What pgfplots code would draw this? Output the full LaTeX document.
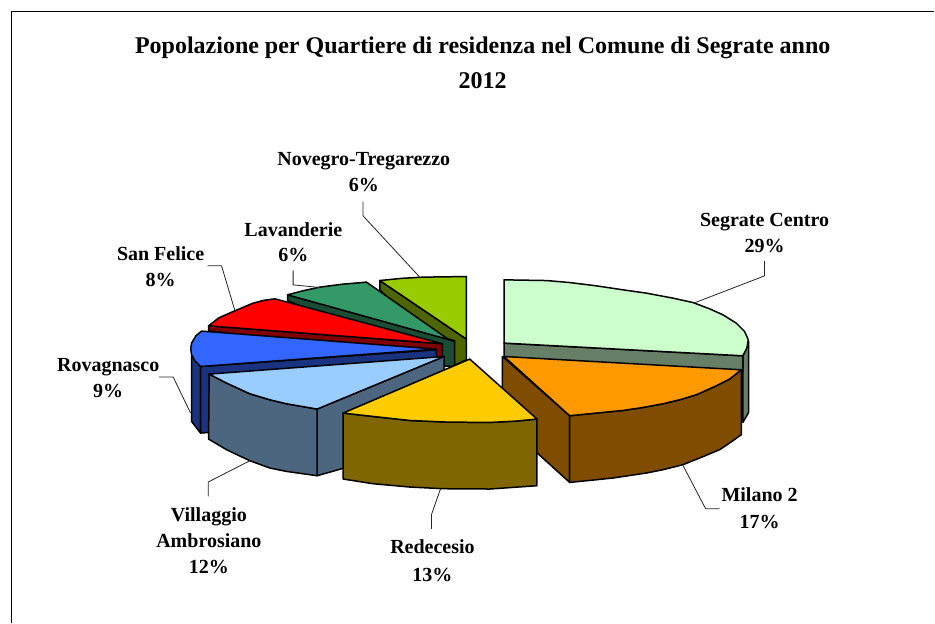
\documentclass[border=0pt]{standalone}
\usepackage{pgfplots}
\pgfplotsset{compat=1.18}
\usepackage{fontspec}
\setmainfont{Liberation Serif}
\definecolor{sgT}{HTML}{CCFFCC}\definecolor{sgD}{HTML}{667F66}
\definecolor{miT}{HTML}{FF9900}\definecolor{miD}{HTML}{804C00}
\definecolor{reT}{HTML}{FFCC00}\definecolor{reD}{HTML}{806600}
\definecolor{viT}{HTML}{99CCFF}\definecolor{viD}{HTML}{4D6680}
\definecolor{roT}{HTML}{3366FF}\definecolor{roD}{HTML}{1A3380}
\definecolor{saT}{HTML}{FF0000}\definecolor{saD}{HTML}{800000}
\definecolor{laT}{HTML}{339966}\definecolor{laD}{HTML}{1A4D33}
\definecolor{noT}{HTML}{99CC00}\definecolor{noD}{HTML}{4D6600}
\tikzset{lab/.style={anchor=base,font=\fontsize{20}{20}\selectfont\bfseries,inner sep=0pt},
 ttl/.style={anchor=base,font=\fontsize{24}{24}\selectfont\bfseries,inner sep=0pt}}
\pgfplotsset{slice/.style={draw=black,line width=1.5pt,line join=round,fill=#1,mark=none},
 lead/.style={draw=black!85,line width=0.8pt,mark=none}}
\begin{document}
\begin{tikzpicture}
\begin{axis}[scale only axis,width=935pt,height=623pt,xmin=0,xmax=935,ymin=0,ymax=623,y dir=reverse,hide axis,clip=false]
\addplot[draw=none,fill=white] coordinates {(0,0)(935,0)(935,623)(0,623)} --cycle;
% frame
\addplot[draw=black,line width=1.1pt] coordinates {(935,11.5)(11.5,11.5)(11.5,623)};
% Novegro-Tregarezzo
\addplot[slice=noD] coordinates {(380,280.7)(466.7,339.3)(466.7,360)(456,365)(380,290)} --cycle;
\addplot[slice=noT] coordinates {(380,280.7)(402,278.5)(423.3,277.3)(445,277)(466.7,276.7)(466.7,339.3)} --cycle;
% Lavanderie
\addplot[slice=laD] coordinates {(287.7,295)(455,341)(455,366.7)(440,366)(287.7,300.7)} --cycle;
\addplot[slice=laT] coordinates {(287.7,295)(303,291)(320,287.3)(343.3,284.3)(366.7,282.3)(449.3,340)(455,341.5)} --cycle;
% San Felice
\addplot[slice=saD] coordinates {(208.7,326)(442.7,344)(442.7,356.7)(430,358)(208.7,331)} --cycle;
\addplot[slice=saT] coordinates {(208.7,326)(219,318)(233.3,311.7)(253.3,303.3)(264,300.5)(275,299)(442.7,344)} --cycle;
% Rovagnasco
\addplot[slice=roD] coordinates {(200.7,366.7)(191.7,355)(191.7,421.7)(200.7,433.3)} --cycle;
\addplot[slice=roD] coordinates {(200.7,366.7)(436.7,350)(436.7,357)(436.7,417)(200.7,433.3)} --cycle;
\addplot[slice=roT] coordinates {(436.7,349.3)(200.7,366.7)(195,361)(191.7,355)(190.8,349)(191.7,343.3)(196,336)(201.7,331.3)} --cycle;
% Villaggio Ambrosiano
\addplot[slice=viD] coordinates {(317.3,409.3)(444.3,356.7)(444.3,368.3)(444.3,440)(317.3,476)} --cycle;
\addplot[slice=viD] coordinates {(209.3,374.3)(226.7,383.3)(250,394)(270,400)(286.7,404)(317.3,409.3)(317.3,476)(286.7,471.7)(270,468.3)(250,461)(226.7,450)(208.7,439.3)} --cycle;
\addplot[slice=viT] coordinates {(444.3,356.7)(317.3,409.3)(286.7,404)(270,400)(250,394)(226.7,383.3)(209.3,374.3)} --cycle;
% Segrate Centro
\addplot[slice=sgD] coordinates {(749,341.7)(743.3,356)(743.3,422.7)(749,412.7)} --cycle;
\addplot[slice=sgD] coordinates {(504.3,343.3)(743.3,356)(743.3,372)(504.3,358)} --cycle;
\addplot[slice=sgT] coordinates {(504.3,280)(546.7,280.7)(570,282.7)(596.7,286)(623.3,290)(646.7,293.3)(673.3,298.3)(693.3,302.7)(710,309)(723.3,315)(736.7,323.3)(745,331.7)(748.7,340)(747.3,348.3)(743.3,356)(504.3,343.3)} --cycle;
% Milano 2
\addplot[slice=miD] coordinates {(502.7,356.7)(570,416)(570,482.7)(502.7,421.7)} --cycle;
\addplot[slice=miD] coordinates {(570,416)(596.7,413.3)(623.3,410.7)(643.3,407.7)(663.3,404)(680,400)(696.7,395)(716.7,386)(730,379.3)(741.7,370)(741.7,435)(730,443.3)(720,450)(700,458.3)(683.3,465)(663.3,470)(646.7,473.3)(613.3,478.3)(590,480.7)(570,482.7)} --cycle;
\addplot[slice=miT] coordinates {(504.3,356.7)(741.7,370)(730,379.3)(716.7,386)(696.7,395)(680,400)(663.3,404)(643.3,407.7)(623.3,410.7)(596.7,413.3)(570,416)} --cycle;
% Redecesio
\addplot[slice=reD] coordinates {(343.3,413.3)(373.3,416.7)(410,420.7)(446.7,422.3)(490,422.7)(516.7,421.3)(537.3,419.3)(537.3,486)(490,489.3)(443.3,489)(410,487.3)(373.3,484)(343.3,479.3)} --cycle;
\addplot[slice=reT] coordinates {(470,359.3)(537.3,419.3)(516.7,421.3)(490,422.7)(446.7,422.3)(410,420.7)(373.3,416.7)(343.3,413.3)} --cycle;
% leaders
\addplot[lead] coordinates {(695,303)(765,276)(765,261)};
\addplot[lead] coordinates {(683,465)(706,509)(720,509)};
\addplot[lead] coordinates {(440.7,489.3)(431.7,515)(431.7,529.3)};
\addplot[lead] coordinates {(250,461)(208.3,482.3)(208.3,496.7)};
\addplot[lead] coordinates {(159.3,377.3)(173.3,377.3)(190.7,413.3)};
\addplot[lead] coordinates {(207.7,266)(221.7,266)(235,310.7)};
\addplot[lead] coordinates {(293.3,270.7)(293.3,285)(320,287.7)};
\addplot[lead] coordinates {(363.3,201.7)(363.3,216)(420,277.3)};
% text
\node[ttl] at (axis cs:483,54) {Popolazione per Quartiere di residenza nel Comune di Segrate anno};
\node[ttl] at (axis cs:483,89) {2012};
\node[lab] at (axis cs:364,166) {Novegro-Tregarezzo};
\node[lab] at (axis cs:364,192) {6\%};
\node[lab] at (axis cs:293.5,236.7) {Lavanderie};
\node[lab] at (axis cs:293.5,262) {6\%};
\node[lab] at (axis cs:160.7,260.7) {San Felice};
\node[lab] at (axis cs:160.7,287) {8\%};
\node[lab] at (axis cs:108.3,371.7) {Rovagnasco};
\node[lab] at (axis cs:108.3,398) {9\%};
\node[lab] at (axis cs:209,522) {Villaggio};
\node[lab] at (axis cs:209,548) {Ambrosiano};
\node[lab] at (axis cs:209,574) {12\%};
\node[lab] at (axis cs:432.7,554) {Redecesio};
\node[lab] at (axis cs:432.7,581.7) {13\%};
\node[lab] at (axis cs:765,226.7) {Segrate Centro};
\node[lab] at (axis cs:765,253) {29\%};
\node[lab] at (axis cs:760,502) {Milano 2};
\node[lab] at (axis cs:760,529) {17\%};
\end{axis}
\end{tikzpicture}
\end{document}
